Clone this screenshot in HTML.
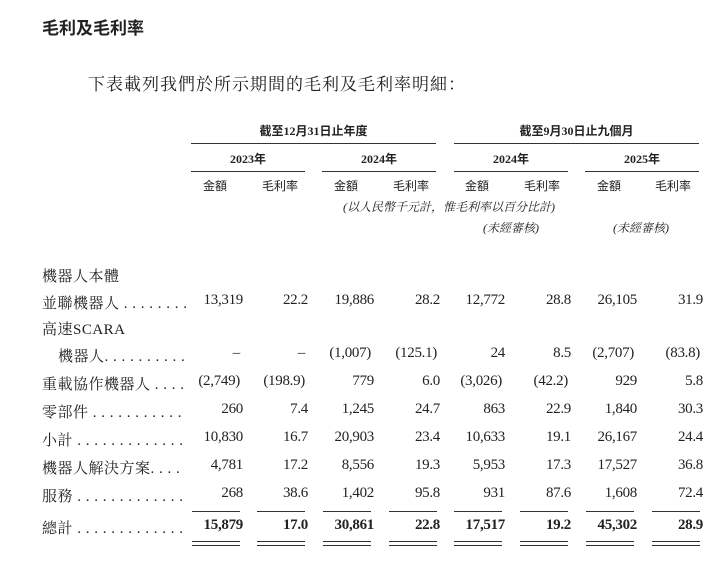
<!DOCTYPE html>
<html><head><meta charset="utf-8"><style>
body{margin:0;width:726px;height:565px;background:#fff;position:relative;overflow:hidden;font-family:"Liberation Serif","Noto Serif CJK SC",serif;color:#222}
.a{position:absolute;white-space:nowrap}
.h{font-family:"Liberation Serif","Noto Sans CJK SC",sans-serif;font-size:12px;font-weight:bold;text-align:center}
.l{position:absolute;height:1px;background:#333}
.n{position:absolute;font-size:15px;text-align:right;width:70px;letter-spacing:-0.3px}
.lab{position:absolute;font-size:15px;left:42px;letter-spacing:0.5px}
</style></head><body>
<div class="a" style="left:42px;top:14px;font-size:17px;font-weight:bold;font-family:'Liberation Sans','Noto Sans CJK SC',sans-serif">毛利及毛利率</div>
<div class="a" style="left:88px;top:70px;font-size:17px;letter-spacing:1px">下表載列我們於所示期間的毛利及毛利率明細：</div>

<div class="a h" style="left:191px;width:245px;top:122px">截至12月31日止年度</div>
<div class="a h" style="left:454px;width:245px;top:122px">截至9月30日止九個月</div>
<div class="l" style="left:191px;width:245px;top:143px"></div>
<div class="l" style="left:454px;width:245px;top:143px"></div>
<div class="a h" style="left:191px;width:114px;top:150px">2023年</div>
<div class="a h" style="left:322px;width:114px;top:150px">2024年</div>
<div class="a h" style="left:454px;width:114px;top:150px">2024年</div>
<div class="a h" style="left:585px;width:114px;top:150px">2025年</div>
<div class="l" style="left:191px;width:114px;top:171px"></div>
<div class="l" style="left:322px;width:114px;top:171px"></div>
<div class="l" style="left:454px;width:114px;top:171px"></div>
<div class="l" style="left:585px;width:114px;top:171px"></div>
<div class="a h" style="left:195px;width:40px;top:177px;font-weight:normal">金額</div>
<div class="a h" style="left:255px;width:50px;top:177px;font-weight:normal">毛利率</div>
<div class="a h" style="left:326px;width:40px;top:177px;font-weight:normal">金額</div>
<div class="a h" style="left:386px;width:50px;top:177px;font-weight:normal">毛利率</div>
<div class="a h" style="left:457px;width:40px;top:177px;font-weight:normal">金額</div>
<div class="a h" style="left:517px;width:50px;top:177px;font-weight:normal">毛利率</div>
<div class="a h" style="left:589px;width:40px;top:177px;font-weight:normal">金額</div>
<div class="a h" style="left:648px;width:50px;top:177px;font-weight:normal">毛利率</div>
<div class="a" style="left:343px;top:198px;font-size:12px;font-style:italic">(以人民幣千元計，惟毛利率以百分比計)</div>
<div class="a" style="left:483px;top:219px;font-size:12px;font-style:italic">(未經審核)</div>
<div class="a" style="left:613px;top:219px;font-size:12px;font-style:italic">(未經審核)</div>

<div class="lab" style="top:265px">機器人本體</div>
<div class="lab" style="top:292px">並聯機器人 . . . . . . . .</div>
<div class="lab" style="top:318px">高速SCARA</div>
<div class="lab" style="top:345px;left:58px">機器人. . . . . . . . . .</div>
<div class="lab" style="top:373px">重載協作機器人 . . . .</div>
<div class="lab" style="top:401px">零部件 . . . . . . . . . . .</div>
<div class="lab" style="top:429px">小計 . . . . . . . . . . . . .</div>
<div class="lab" style="top:457px">機器人解決方案. . . .</div>
<div class="lab" style="top:485px">服務 . . . . . . . . . . . . .</div>
<div class="lab" style="top:517px">總計 . . . . . . . . . . . . .</div>

<div id="nums"></div>
<script>
var rows=[
[292,["13,319","22.2","19,886","28.2","12,772","28.8","26,105","31.9"]],
[345,["–","–","(1,007)","(125.1)","24","8.5","(2,707)","(83.8)"]],
[373,["(2,749)","(198.9)","779","6.0","(3,026)","(42.2)","929","5.8"]],
[401,["260","7.4","1,245","24.7","863","22.9","1,840","30.3"]],
[429,["10,830","16.7","20,903","23.4","10,633","19.1","26,167","24.4"]],
[457,["4,781","17.2","8,556","19.3","5,953","17.3","17,527","36.8"]],
[485,["268","38.6","1,402","95.8","931","87.6","1,608","72.4"]],
[517,["15,879","17.0","30,861","22.8","17,517","19.2","45,302","28.9"]]];
var rx=[240,305,371,437,502,568,634,700],h="";
rows.forEach(function(r,i){r[1].forEach(function(v,j){
var pad=(v.charAt(0)=="("||v=="–")?0:3;
h+='<div class="n" style="top:'+r[0]+'px;left:'+(rx[j]-70+pad)+'px;'+(i==7?'font-weight:bold;':'')+'">'+v+'</div>';});});
rx.forEach(function(x){
h+='<div class="l" style="left:'+(x-48)+'px;width:48px;top:511px"></div>';
h+='<div class="l" style="left:'+(x-48)+'px;width:48px;top:541px"></div>';
h+='<div class="l" style="left:'+(x-48)+'px;width:48px;top:545px"></div>';});
document.getElementById("nums").innerHTML=h;
</script>
</body></html>
